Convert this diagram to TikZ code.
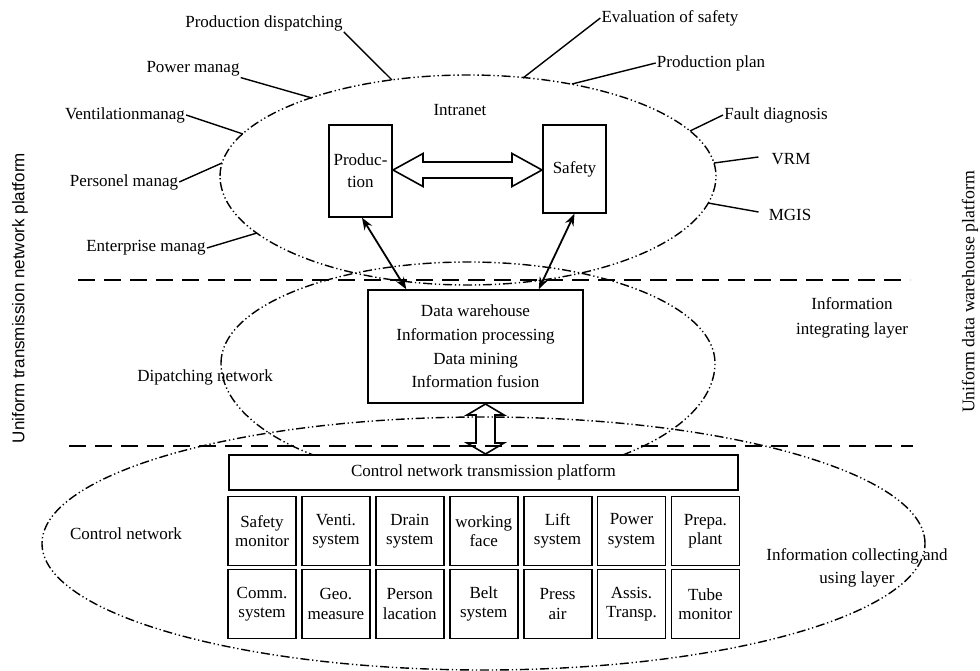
\documentclass[tikz,border=0pt]{standalone}
\usepackage{fontspec}
\setmainfont{Liberation Serif}
\setsansfont{Liberation Sans}
\usetikzlibrary{arrows.meta,calc}
\begin{document}
\begin{tikzpicture}[x=1pt,y=-1pt,
  every node/.style={font=\fontsize{17}{20}\selectfont},
  lbl/.style={inner sep=1pt},
  ddd/.style={line width=1.4pt, dash pattern=on 9pt off 2.8pt on 1.3pt off 2.8pt on 1.3pt off 2.8pt},
  sepline/.style={line width=1.4pt, dash pattern=on 17pt off 9pt},
  blk/.style={draw, line width=1.5pt, fill=white, inner sep=0pt, align=center},
  cell/.style={draw, line width=1.8pt, fill=white, inner sep=0pt, align=center,
    minimum width=68pt, minimum height=69pt, font=\fontsize{17}{19.5}\selectfont},
  leader/.style={line width=1.4pt},
  biarrow/.style={{Stealth[length=12pt,width=9pt]}-{Stealth[length=12pt,width=9pt]}, line width=1.8pt},
  hollow/.style={draw, line width=1.6pt, line join=miter}
]
\useasboundingbox (0,0) rectangle (980,671);

% ellipses
\draw[ddd] (220,176) arc[start angle=180,end angle=0,x radius=248pt,y radius=101pt]
  arc[start angle=0,end angle=-180,x radius=248pt,y radius=109pt];
\draw[ddd] (221,363) arc[start angle=180,end angle=0,x radius=247pt,y radius=101pt]
  arc[start angle=0,end angle=-180,x radius=247pt,y radius=118pt];
\draw[ddd] (483.5,543.5) ellipse [x radius=441.5pt, y radius=126.5pt];

% layer separators
\coordinate (s1a) at (78,280);  \coordinate (s1b) at (910,280);
\coordinate (s2a) at (69,446);  \coordinate (s2b) at (913,446);
\draw[sepline] (s1a) -- (s1b);
\draw[sepline] (s2a) -- (s2b);

% boxes
\node[blk, minimum width=63pt, minimum height=92pt, font=\fontsize{17}{22}\selectfont] (prod) at (360.5,171) {Produc-\\tion};
\node[blk, minimum width=63pt, minimum height=88pt] (saf) at (574.5,169) {Safety};
\node[blk, minimum width=215pt, minimum height=113pt, font=\fontsize{17}{23.7}\selectfont] (dw) at (475.5,346.5)
  {Data warehouse\\Information processing\\Data mining\\Information fusion};
\node[blk, minimum width=509pt, minimum height=35pt] (cnt) at (483.5,472.5) {Control network transmission platform};

\foreach \t [count=\i from 0] in {{Safety\\monitor},{Venti.\\system},{Drain\\system},{working\\face},{Lift\\system},{Power\\system},{Prepa.\\plant}}
  \node[cell] (ra\i) at (262+73.9*\i,531) {\t};
\foreach \t [count=\i from 0] in {{Comm.\\system},{Geo.\\measure},{Person\\lacation},{Belt\\system},{Press\\air},{Assis.\\Transp.},{Tube\\monitor}}
  \node[cell] (rb\i) at (262+73.9*\i,604) {\t};

% arrows between boxes
\draw[biarrow] ([xshift=1.5pt]prod.south) -- ([xshift=39pt]dw.north west);
\draw[biarrow] (saf.south) -- ([xshift=-45pt]dw.north east);

\coordinate (ha) at ($(prod.east)!0.5!(saf.west)$);
\draw[hollow, shift={(ha)}] (-74.5,0) -- (-44.5,-16.5) -- (-44.5,-8) -- (44.5,-8) -- (44.5,-16.5) -- (74.5,0)
  -- (44.5,16.5) -- (44.5,8) -- (-44.5,8) -- (-44.5,16.5) -- cycle;
\coordinate (va) at ($(dw.south)!0.5!(cnt.north)+(6pt,0)$);
\draw[hollow, shift={(va)}] (0,-25) -- (18.5,-14) -- (9.5,-14) -- (9.5,14) -- (18.5,14) -- (0,25)
  -- (-18.5,14) -- (-9.5,14) -- (-9.5,-14) -- (-18.5,-14) -- cycle;

% labels
\node[lbl] (intr) at (460,110) {Intranet};
\node[lbl] (dpn) at (205,377) {Dipatching network};
\node[lbl] (cn) at (126,534) {Control network};
\node[lbl, align=center, font=\fontsize{17}{25}\selectfont] (iil) at (852,318) {Information\\integrating layer};
\node[lbl, align=center, font=\fontsize{17}{23}\selectfont] (icl) at (857,568) {Information collecting and\\using layer};
\node[lbl, rotate=90, font=\sffamily\fontsize{17}{20}\selectfont] (utn) at (20,298) {Uniform transmission network platform};
\node[lbl, rotate=90, font=\fontsize{17.8}{20}\selectfont] (udw) at (970,292) {Uniform data warehouse platform};

\node[lbl] (pd) at (264,23) {Production dispatching};
\node[lbl] (pm) at (193,69) {Power manag};
\node[lbl] (vm) at (125,115) {Ventilationmanag};
\node[lbl] (pe) at (124,182) {Personel manag};
\node[lbl] (em) at (146,248) {Enterprise manag};
\node[lbl] (es) at (670,18) {Evaluation of safety};
\node[lbl] (pp) at (711,63) {Production plan};
\node[lbl] (fd) at (776,115) {Fault diagnosis};
\node[lbl] (vrm) at (791,159) {VRM};
\node[lbl] (mg) at (790,215) {MGIS};

% leader end points on the Intranet ellipse
\coordinate (e-pd) at (392,80);
\coordinate (e-pm) at (312,98);
\coordinate (e-vm) at (243,134);
\coordinate (e-pe) at (222,163);
\coordinate (e-em) at (257,233);
\coordinate (e-es) at (523,78);
\coordinate (e-pp) at (572,84);
\coordinate (e-fd) at (690,131);
\coordinate (e-vrm) at (714,163);
\coordinate (e-mg) at (708,203);

\draw[leader] (pd.south east) -- (e-pd);
\draw[leader] (pm.south east) -- (e-pm);
\draw[leader] (vm.east) -- (e-vm);
\draw[leader] (pe.east) -- (e-pe);
\draw[leader] (em.east) -- (e-em);
\draw[leader] (es.west) -- (e-es);
\draw[leader] (pp.west) -- (e-pp);
\draw[leader] (fd.west) -- (e-fd);
\draw[leader] ([xshift=-12pt,yshift=2pt]vrm.west) -- (e-vrm);
\draw[leader] ([xshift=-9pt,yshift=3pt]mg.west) -- (e-mg);
\end{tikzpicture}
\end{document}
